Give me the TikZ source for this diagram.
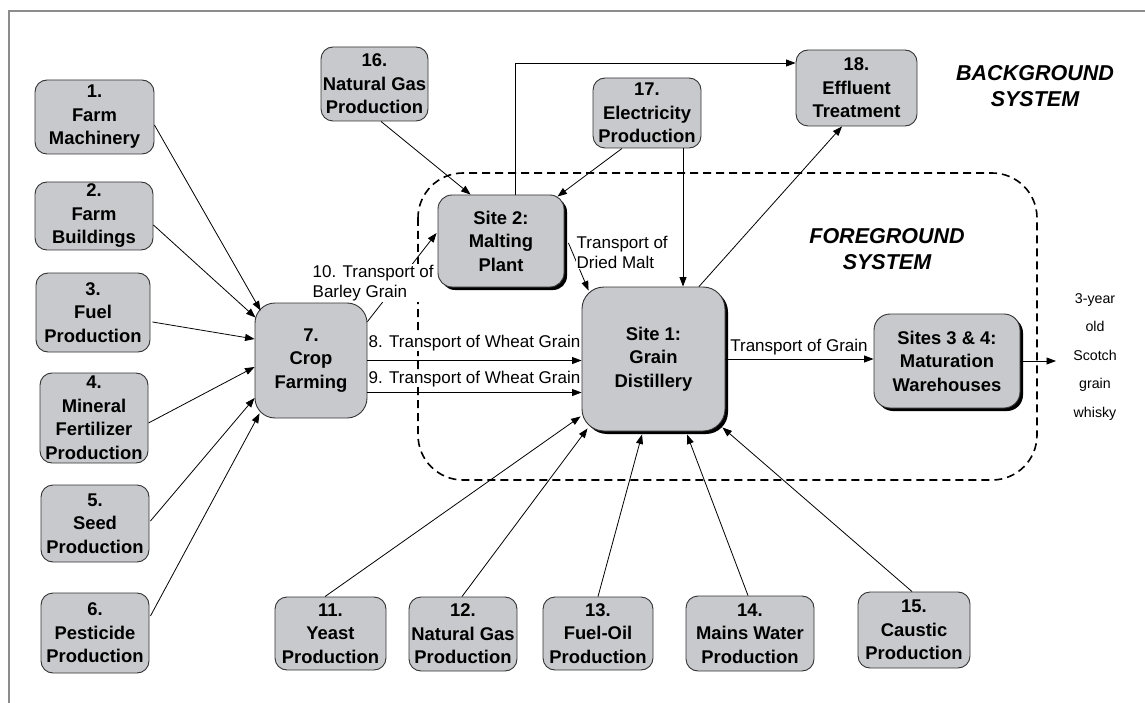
\documentclass[tikz,border=0pt]{standalone}
\usepackage{fontspec}
\setsansfont{Liberation Sans}
\usetikzlibrary{arrows.meta,calc,shadows}
\definecolor{boxgray}{RGB}{200,201,204}
\definecolor{framegray}{RGB}{140,140,140}
\newcommand{\boxfont}{\sffamily\bfseries\fontsize{18.4}{23.5}\selectfont}
\newcommand{\lblfont}{\sffamily\fontsize{17}{20.5}\selectfont}
\newcommand{\sysfont}{\sffamily\bfseries\itshape\fontsize{21.5}{26}\selectfont}
\newcommand{\outfont}{\sffamily\fontsize{14.2}{28.5}\selectfont}
\begin{document}
\begin{tikzpicture}[x=1pt,y=-1pt,
  box/.style={draw=black!80, fill=boxgray, line width=0.9pt, rounded corners=12pt,
    align=center, inner sep=0pt, font=\boxfont},
  site/.style={box, drop shadow={shadow xshift=3pt, shadow yshift=-3pt, fill=black, opacity=1}},
  conn/.style={line width=0.8pt, -{Triangle[length=9.5pt,width=7pt]}},
  lbl/.style={font=\lblfont, inner sep=0.5pt, align=left, fill=white},
  sys/.style={font=\sysfont, inner sep=0pt, align=center}]
\useasboundingbox (0,0) rectangle (1145,703);
\draw[framegray, line width=1.5pt] (1145,11) -- (9,11) -- (9,703);
% foreground system boundary
\draw[dash pattern=on 8pt off 5pt, line width=1.6pt, rounded corners=45pt] (418,173) rectangle (1037,480);
% left column
\node[box, minimum width=119pt, minimum height=74pt] (n1) at (94.5,117) {1.\\Farm\\Machinery};
\node[box, minimum width=118pt, minimum height=68pt] (n2) at (94,216) {2.\\Farm\\Buildings};
\node[box, minimum width=114pt, minimum height=79pt] (n3) at (93,312.5) {3.\\Fuel\\Production};
\node[box, minimum width=108pt, minimum height=90pt] (n4) at (94,418) {4.\\Mineral\\Fertilizer\\Production};
\node[box, minimum width=108pt, minimum height=77pt] (n5) at (95,523.5) {5.\\Seed\\Production};
\node[box, minimum width=108pt, minimum height=80pt] (n6) at (95,633) {6.\\Pesticide\\Production};
\node[box, rounded corners=20pt, minimum width=112pt, minimum height=115pt] (n7) at (311,360.5) {7.\\Crop\\Farming};
% top row
\node[box, minimum width=107pt, minimum height=74pt] (n16) at (374.5,84) {16.\\Natural Gas\\Production};
\node[box, minimum width=108pt, minimum height=70pt] (n17) at (647,113) {17.\\Electricity\\Production};
\node[box, minimum width=121pt, minimum height=76pt] (n18) at (856.5,88) {18.\\Effluent\\Treatment};
% sites
\node[site, rounded corners=14pt, minimum width=126pt, minimum height=92pt] (s2) at (501,241) {Site 2:\\Malting\\Plant};
\node[site, rounded corners=22pt, minimum width=143pt, minimum height=144pt] (s1) at (653.5,359) {Site 1:\\Grain\\Distillery};
\node[site, rounded corners=16pt, minimum width=146pt, minimum height=94pt] (s34) at (947,361) {Sites 3 \& 4:\\Maturation\\Warehouses};
% bottom row
\node[box, minimum width=111pt, minimum height=73pt] (n11) at (330.5,633.5) {11.\\Yeast\\Production};
\node[box, minimum width=108pt, minimum height=74pt] (n12) at (463,634) {12.\\Natural Gas\\Production};
\node[box, minimum width=110pt, minimum height=73pt] (n13) at (598,633.5) {13.\\Fuel-Oil\\Production};
\node[box, minimum width=128pt, minimum height=75pt] (n14) at (750,633.5) {14.\\Mains Water\\Production};
\node[box, minimum width=112pt, minimum height=76pt] (n15) at (914,630) {15.\\Caustic\\Production};
% connectors into crop farming
\draw[conn] ($(n1.east)+(0,8)$) -- ($(n7.north west)+(6,8)$);
\draw[conn] ($(n2.east)+(0,9)$) -- ($(n7.north west)+(1,15)$);
\draw[conn] ($(n3.east)+(2,9.5)$) -- ($(n7.west)+(0,-21.5)$);
\draw[conn] ($(n4.east)+(0,5)$) -- ($(n7.west)+(0,6.5)$);
\draw[conn] ($(n5.east)+(1,-2.5)$) -- ($(n7.west)+(0,37.5)$);
\draw[conn] ($(n6.east)+(1,-17)$) -- ($(n7.south west)+(5,-5)$);
% malting plant
\draw[conn] ($(n7.north east)+(0,19)$) -- ($(s2.west)+(-1,-8)$);
\draw[conn] ($(n16.south)+(6.5,0)$) -- ($(s2.north west)+(33,0)$);
\draw[conn] ($(n17.south)+(-25,0)$) -- ($(s2.north east)+(-7,2)$);
\draw[conn] ($(s2.north)+(14,0)$) |- ($(n18.west)+(0,-25)$);
\draw[conn] ($(s2.east)+(4,2)$) -- ($(s1.north west)+(7,4)$);
% distillery
\draw[conn] ($(n17.south)+(36,0)$) coordinate (e17) -- (e17 |- s1.north);
\draw[conn] ($(s1.north)+(45.5,0)$) -- ($(n18.south)+(-14.5,0)$);
\draw[conn] (n7.east) -- (n7.east -| s1.west);
\draw[conn] ($(n7.east)+(0,32)$) coordinate (e9) -- (e9 -| s1.west);
\draw[conn] (s1.east) -- (s1.east -| s34.west);
\coordinate (outtip) at (1056,361);
\draw[conn] (s34.east) -- (outtip);
% bottom inputs
\draw[conn] ($(n11.north)+(-5.5,0)$) -- ($(s1.south west)+(-1,-15)$);
\draw[conn] ($(n12.north)+(-1,0)$) -- ($(s1.south west)+(6,-3)$);
\draw[conn] (n13.north) -- ($(s1.south)+(-11.5,3)$);
\draw[conn] ($(n14.north)+(-2,0)$) -- ($(s1.south)+(33.5,3)$);
\draw[conn] ($(n15.north)+(-2,0)$) -- ($(s1.south east)+(-3,-4)$);
% texts
\node[lbl, anchor=west] (l10) at (312,283) {10. Transport of\\Barley Grain};
\node[lbl, anchor=west] (ldm) at (576,252.5) {Transport of\\Dried Malt};
\node[lbl] (l8) at (474.5,343) {8. Transport of Wheat Grain};
\node[lbl] (l9) at (474.5,379) {9. Transport of Wheat Grain};
\node[lbl] (lg) at (799,347) {Transport of Grain};
\node[sys] (bgl) at (1035,86) {BACKGROUND\\SYSTEM};
\node[sys] (fgl) at (887,249) {FOREGROUND\\SYSTEM};
\node[font=\outfont, align=center, inner sep=0pt] (out) at (1095,357) {3-year\\old\\Scotch\\grain\\whisky};
\end{tikzpicture}
\end{document}
